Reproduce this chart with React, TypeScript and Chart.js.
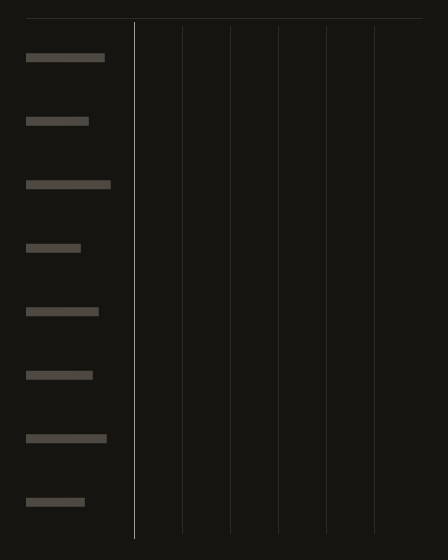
import { useEffect, useRef } from "react";
import { Chart, registerables } from "chart.js";

Chart.register(...registerables);

// Category labels are drawn as solid blocks in the reference
const categories = [
  "█".repeat(39),
  "█".repeat(31),
  "█".repeat(42),
  "█".repeat(27),
  "█".repeat(36),
  "█".repeat(33),
  "█".repeat(40),
  "█".repeat(29),
];
const values = [0, 0, 0, 0, 0, 0, 0, 0];
const xMin = 0;
const xMax = 6;

const BG = "#151410";
const BLOCK = "#4e4942";
const AXIS = "#a29f98";
const GRID = "#2d2c20";

export default function App() {
  const canvasRef = useRef<HTMLCanvasElement>(null);
  const chartRef = useRef<Chart | null>(null);

  useEffect(() => {
    if (!canvasRef.current) return;

    const gridColor = (ctx: any) => {
      const v = ctx.tick?.value;
      if (v === xMin) return AXIS;
      if (v === xMax) return "rgba(0,0,0,0)";
      return GRID;
    };
    const tickColor = (ctx: any) => (ctx.tick?.value === xMin ? AXIS : "rgba(0,0,0,0)");

    chartRef.current?.destroy();
    chartRef.current = new Chart(canvasRef.current, {
      type: "bar",
      data: {
        labels: categories,
        datasets: [
          {
            data: values,
            backgroundColor: BLOCK,
            borderWidth: 0,
            inflateAmount: 0,
          },
        ],
      },
      options: {
        indexAxis: "y",
        responsive: true,
        maintainAspectRatio: false,
        animation: false,
        layout: { padding: { top: 3, bottom: 2, left: 0, right: 0 } },
        plugins: {
          legend: { display: false },
          tooltip: { enabled: false },
        },
        scales: {
          x: {
            type: "linear",
            position: "bottom",
            min: xMin,
            max: xMax,
            ticks: { display: false, stepSize: 1 },
            grid: { color: gridColor, tickColor, tickLength: 5, drawTicks: true },
            border: { display: false },
          },
          x2: {
            type: "linear",
            position: "top",
            min: xMin,
            max: xMax,
            ticks: { display: false, stepSize: 1 },
            grid: { drawOnChartArea: false, tickColor, tickLength: 4, drawTicks: true },
            border: { display: false },
          },
          y: {
            type: "category",
            grid: { display: false },
            border: { display: false },
            ticks: {
              autoSkip: false,
              crossAlign: "far",
              padding: 0,
              color: BLOCK,
              showLabelBackdrop: true,
              backdropColor: BLOCK,
              backdropPadding: { top: 0, bottom: 0, left: 0, right: 1 },
              font: { family: "DejaVu Sans Mono", size: 3.322, lineHeight: "9px" },
            },
            afterFit: (scale: any) => {
              scale.width = 108;
            },
          },
        },
      } as any,
    });

    return () => {
      chartRef.current?.destroy();
    };
  }, []);

  return (
    <div
      style={{
        position: "fixed",
        left: 0,
        top: 0,
        width: 448,
        height: 560,
        background: BG,
      }}
    >
      <div
        style={{
          position: "absolute",
          left: 26,
          top: 18,
          width: 397,
          height: 1,
          background: GRID,
        }}
      />
      <div style={{ position: "absolute", left: 26, top: 19, width: 396, height: 522 }}>
        <canvas ref={canvasRef} />
      </div>
    </div>
  );
}
